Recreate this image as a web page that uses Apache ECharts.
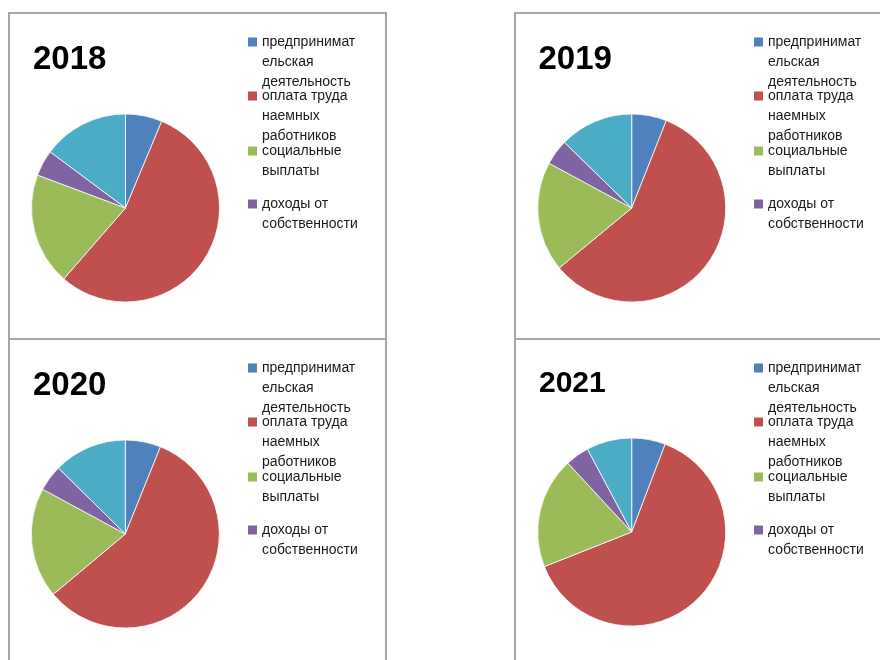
<!DOCTYPE html>
<html><head><meta charset="utf-8">
<script src="https://cdn.jsdelivr.net/npm/echarts@6/dist/echarts.min.js"></script>
<style>html,body{margin:0;padding:0;background:#fff}#c{width:880px;height:660px}</style>
</head><body><div id="c"></div>
<script>
// ---- data ----
const years = ['2018', '2019', '2020', '2021'];
const categories = [
  'предпринимательская деятельность',
  'оплата труда наемных работников',
  'социальные выплаты',
  'доходы от собственности',
  'прочие доходы'
];
// legend text as wrapped in the original (only first four are visible)
const legendLabels = [
  'предпринимат\nельская\nдеятельность',
  'оплата труда\nнаемных\nработников',
  'социальные\nвыплаты',
  'доходы от\nсобственности'
];
const values2018 = [6.3, 55.1, 19.3, 4.5, 14.8];
const values2019 = [6.0, 58.0, 18.9, 4.4, 12.7];
const values2020 = [6.1, 57.8, 19.0, 4.5, 12.6];
const values2021 = [5.8, 63.2, 19.1, 4.1, 7.8];
const allValues = [values2018, values2019, values2020, values2021];

// ---- styling / layout ----
const colors = ['#4F81BD', '#C0504D', '#9BBB59', '#8064A2', '#4BACC6'];
const panels = [{x: 9, y: 13}, {x: 515, y: 13}, {x: 9, y: 339}, {x: 515, y: 339}];
const PW = 377, PH = 326;
const pieCenters = [[116.5, 195], [116.7, 195], [116.3, 195], [116.7, 193]];
const titleSizes = [33, 33, 33, 30];
const titleY = [46.5, 47, 46.8, 44.5];
const titleX = [24, 23.5, 24, 24];
const legendOffsets = [29, 83, 138, 191];
const FONT = '"Liberation Sans", Arial, sans-serif';

const chart = echarts.init(document.getElementById('c'), null, {renderer: 'canvas'});
const graphic = [];
const series = [];

panels.forEach((p, k) => {
  graphic.push({
    type: 'rect', z: 0, silent: true,
    shape: {x: p.x, y: p.y, width: PW, height: PH},
    style: {fill: 'none', stroke: '#a6a6a6', lineWidth: 2}
  });
  graphic.push({
    type: 'text', z: 10, silent: true,
    x: p.x + titleX[k], y: p.y + titleY[k],
    style: {
      text: years[k], fill: '#000',
      font: 'bold ' + titleSizes[k] + 'px ' + FONT,
      textVerticalAlign: 'middle', verticalAlign: 'middle'
    }
  });
  legendLabels.forEach((lab, i) => {
    const cy = p.y + legendOffsets[i];
    graphic.push({
      type: 'rect', z: 10, silent: true,
      shape: {x: p.x + 239, y: cy - 4.5, width: 9, height: 9},
      style: {fill: colors[i]}
    });
    graphic.push({
      type: 'text', z: 10, silent: true,
      x: p.x + 253, y: cy - 10,
      style: {
        text: lab, fill: '#1a1a1a',
        font: '14px ' + FONT,
        lineHeight: 20,
        verticalAlign: 'top'
      }
    });
  });
  series.push({
    type: 'pie',
    center: [p.x + pieCenters[k][0], p.y + pieCenters[k][1]],
    radius: 94,
    startAngle: 90,
    clockwise: true,
    silent: true,
    label: {show: false},
    labelLine: {show: false},
    itemStyle: {borderColor: 'rgba(255,255,255,0.8)', borderWidth: 1},
    data: categories.map((n, i) => ({name: n, value: allValues[k][i]}))
  });
});

chart.setOption({
  animation: false,
  backgroundColor: '#fff',
  color: colors,
  graphic: graphic,
  series: series
});
</script></body></html>
